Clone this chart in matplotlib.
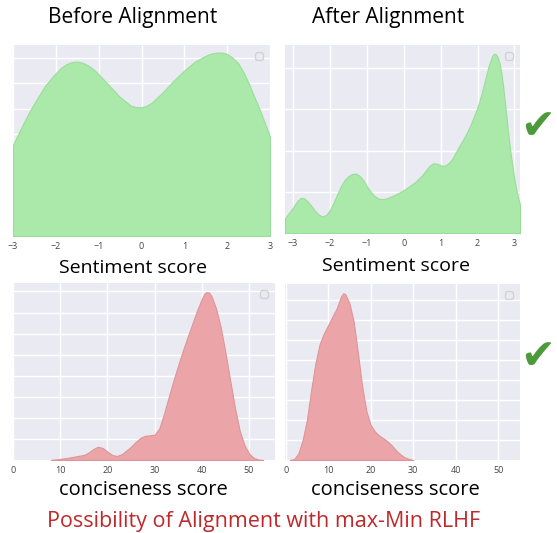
import numpy as np
import matplotlib.pyplot as plt
import seaborn as sns

sns.set_style("darkgrid")
plt.rcParams['font.family'] = ['Open Sans', 'DejaVu Sans']

# sentiment score density, before alignment
sent_before_x = [-3.0, -2.875, -2.75, -2.625, -2.5, -2.25, -2.0, -1.875, -1.75, -1.625, -1.5,
                 -1.375, -1.25, -1.125, -1.0, -0.75, -0.5, -0.25, -0.125, 0.0, 0.125, 0.25,
                 0.5, 0.75, 1.0, 1.25, 1.5, 1.625, 1.75, 1.875, 2.0, 2.125, 2.25, 2.375,
                 2.5, 2.625, 2.75, 2.875, 3.0]
sent_before_y = [3.58, 4.02, 4.45, 4.85, 5.22, 5.9, 6.4, 6.6, 6.75, 6.83, 6.85,
                 6.8, 6.7, 6.55, 6.35, 5.9, 5.45, 5.12, 5.06, 5.05, 5.12, 5.25,
                 5.65, 6.1, 6.5, 6.85, 7.08, 7.16, 7.2, 7.2, 7.15, 7.0, 6.8, 6.45,
                 6.0, 5.5, 5.0, 4.45, 3.9]

# sentiment score density, after alignment
sent_after_x = [-3.22, -3.1, -3.0, -2.9, -2.8, -2.7, -2.6, -2.5, -2.4, -2.3, -2.2, -2.1,
                -2.0, -1.9, -1.8, -1.7, -1.6, -1.5, -1.4, -1.3, -1.2, -1.1, -1.0, -0.9,
                -0.8, -0.7, -0.6, -0.5, -0.3, -0.1, 0.1, 0.3, 0.5, 0.6, 0.7, 0.8, 0.9,
                1.0, 1.1, 1.2, 1.3, 1.4, 1.5, 1.6, 1.7, 1.8, 1.9, 2.0, 2.1, 2.2, 2.3,
                2.4, 2.45, 2.5, 2.55, 2.6, 2.65, 2.7, 2.75, 2.8, 2.85, 2.9, 2.95, 3.0,
                3.05, 3.1, 3.15]
sent_after_y = [0.36, 0.5, 0.62, 0.76, 0.85, 0.84, 0.76, 0.65, 0.53, 0.44, 0.4, 0.44,
                0.56, 0.74, 0.95, 1.14, 1.29, 1.38, 1.43, 1.44, 1.39, 1.28, 1.13, 1.0,
                0.9, 0.84, 0.82, 0.83, 0.9, 0.99, 1.1, 1.23, 1.4, 1.52, 1.63, 1.69, 1.68,
                1.64, 1.63, 1.68, 1.78, 1.94, 2.1, 2.25, 2.42, 2.6, 2.82, 3.06, 3.35, 3.7, 4.05,
                4.3, 4.35, 4.33, 4.25, 4.1, 3.85, 3.5, 3.1, 2.66, 2.25, 1.9, 1.6, 1.29,
                1.05, 0.85, 0.69]

# conciseness score density, before alignment
conc_before_x = [8, 10, 12, 14, 15, 16, 17, 18, 19, 20, 21, 22, 23, 24, 25, 26, 27, 28,
                 29, 30, 31, 32, 33, 34, 35, 36, 37, 38, 39, 40, 40.5, 41, 41.5, 42, 43,
                 44, 45, 46, 47, 48, 49, 50, 51, 52, 53]
conc_before_y = [0.0, 0.05, 0.12, 0.2, 0.24, 0.35, 0.52, 0.63, 0.57, 0.4, 0.24, 0.19,
                 0.27, 0.45, 0.63, 0.86, 1.05, 1.15, 1.17, 1.2, 1.5, 2.2, 3.0, 3.78,
                 4.5, 5.2, 5.85, 6.47, 7.1, 7.65, 7.88, 7.97, 7.95, 7.8, 7.2, 6.3,
                 5.1, 3.78, 2.5, 1.41, 0.72, 0.31, 0.1, 0.02, 0.0]

# conciseness score density, after alignment
conc_after_x = [1, 2, 3, 4, 5, 6, 7, 8, 9, 10, 11, 12, 13, 13.5, 14, 15, 16, 17, 18,
                19, 20, 21, 22, 23, 24, 25, 26, 27, 28, 29, 30]
conc_after_y = [0.0, 0.05, 0.33, 1.0, 2.0, 3.5, 4.83, 5.8, 6.33, 6.75, 7.17, 7.58, 8.17,
                8.33, 8.3, 7.83, 6.92, 5.33, 3.67, 2.42, 1.75, 1.42, 1.22, 1.08, 0.92,
                0.72, 0.47, 0.28, 0.13, 0.05, 0.0]

green = '#ABE9AA'
green_edge = '#98DE98'
red = '#EBA5A8'
red_edge = '#DE9598'

fig = plt.figure(figsize=(5.57, 5.33), dpi=100)
W, H = 557.0, 533.0


def box(l, t, r, b):
    return [l / W, 1 - b / H, (r - l) / W, (b - t) / H]


def style(ax, xlim, ylim, xticks, ystep):
    ax.set_facecolor('#EAEAF2')
    ax.set_xlim(*xlim)
    ax.set_ylim(*ylim)
    ax.set_xticks(xticks)
    ax.set_yticks(np.arange(ystep, ylim[1], ystep))
    ax.set_yticklabels([])
    ax.tick_params(axis='x', labelsize=6.5, colors='#444444', length=0, pad=4)
    ax.tick_params(axis='y', length=0)
    ax.grid(True, color='white', linewidth=1)
    for s in ax.spines.values():
        s.set_visible(False)
    ax.legend(handles=[], labels=[], loc='upper right', frameon=True,
              borderpad=0.3, handlelength=0.5)


ax1 = fig.add_axes(box(13, 45, 270, 236))
ax1.fill_between(sent_before_x, sent_before_y, color=green, edgecolor=green_edge, lw=0.8)
style(ax1, (-3, 3), (0, 7.5), [-3, -2, -1, 0, 1, 2, 3], 1.0)

ax2 = fig.add_axes(box(285, 45, 520, 233))
ax2.fill_between(sent_after_x, sent_after_y, color=green, edgecolor=green_edge, lw=0.8)
style(ax2, (-3.22, 3.15), (0, 4.56), [-3, -2, -1, 0, 1, 2, 3], 1.0)

ax3 = fig.add_axes(box(13, 283, 275, 460))
ax3.fill_between(conc_before_x, conc_before_y, color=red, edgecolor=red_edge, lw=0.8)
style(ax3, (0, 55.5), (0, 8.4), [0, 10, 20, 30, 40, 50], 1.0)

ax4 = fig.add_axes(box(285, 284, 520, 460))
ax4.fill_between(conc_after_x, conc_after_y, color=red, edgecolor=red_edge, lw=0.8)
style(ax4, (-0.15, 55.1), (0, 8.8), [0, 10, 20, 30, 40, 50], 1.0)

# headings and labels
txt = dict(ha='center', va='center', color='black')
fig.text(133 / W, 1 - 17 / H, 'Before Alignment', fontsize=15, **txt)
fig.text(388 / W, 1 - 17 / H, 'After Alignment', fontsize=15, **txt)
fig.text(133 / W, 1 - 268 / H, 'Sentiment score', fontsize=14, **txt)
fig.text(396 / W, 1 - 266 / H, 'Sentiment score', fontsize=14, **txt)
fig.text(143 / W, 1 - 490 / H, 'conciseness score', fontsize=14.5, **txt)
fig.text(395 / W, 1 - 490 / H, 'conciseness score', fontsize=14.5, **txt)
fig.text(264 / W, 1 - 522 / H, 'Possibility of Alignment with max-Min RLHF',
         ha='center', va='center', fontsize=15.5, color='#C0292B')

# check marks
for yc in (127, 357):
    fig.text(538 / W, 1 - yc / H, '\u2714', ha='center', va='center', fontsize=30,
             color='#4C9A3C', family=['DejaVu Sans'])

fig.savefig('out.png', dpi=100)
